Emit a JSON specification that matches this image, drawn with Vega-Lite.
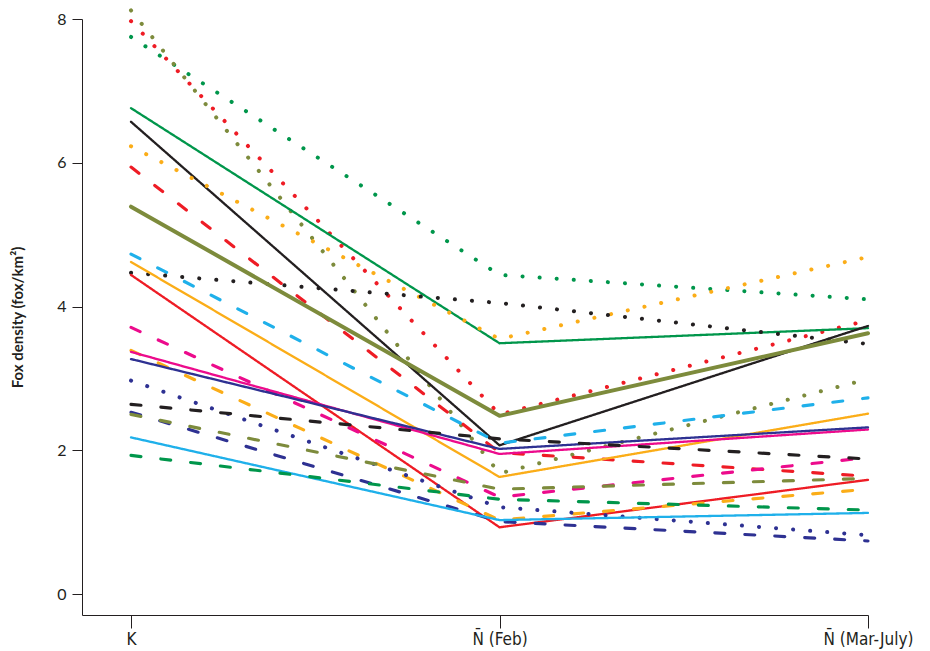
{
  "$schema": "https://vega.github.io/schema/vega-lite/v6.json",
  "width": 786,
  "height": 596,
  "autosize": {"type": "none"},
  "padding": {"left": 82, "top": 19, "right": 62, "bottom": 36},
  "background": "white",
  "config": {
    "view": {"stroke": null},
    "axis": {
      "domainColor": "#231f20",
      "tickColor": "#231f20",
      "labelColor": "#231f20",
      "titleColor": "#231f20",
      "labelFont": "Lato",
      "titleFont": "Lato",
      "grid": false
    }
  },
  "data": {
    "values": [
      {"series": "green-dotted", "colour": "green", "type": "dotted", "t": 0, "v": 7.75},
      {"series": "green-dotted", "colour": "green", "type": "dotted", "t": 1, "v": 4.44},
      {"series": "green-dotted", "colour": "green", "type": "dotted", "t": 2, "v": 4.10},
      {"series": "red-dotted", "colour": "red", "type": "dotted", "t": 0, "v": 7.97},
      {"series": "red-dotted", "colour": "red", "type": "dotted", "t": 1, "v": 2.50},
      {"series": "red-dotted", "colour": "red", "type": "dotted", "t": 2, "v": 3.81},
      {"series": "olive-dotted", "colour": "olive", "type": "dotted", "t": 0, "v": 8.12},
      {"series": "olive-dotted", "colour": "olive", "type": "dotted", "t": 1, "v": 1.68},
      {"series": "olive-dotted", "colour": "olive", "type": "dotted", "t": 2, "v": 2.99},
      {"series": "green-solid", "colour": "green", "type": "solid", "t": 0, "v": 6.76},
      {"series": "green-solid", "colour": "green", "type": "solid", "t": 1, "v": 3.49},
      {"series": "green-solid", "colour": "green", "type": "solid", "t": 2, "v": 3.70},
      {"series": "black-solid", "colour": "black", "type": "solid", "t": 0, "v": 6.57},
      {"series": "black-solid", "colour": "black", "type": "solid", "t": 1, "v": 2.07},
      {"series": "black-solid", "colour": "black", "type": "solid", "t": 2, "v": 3.73},
      {"series": "orange-dotted", "colour": "orange", "type": "dotted", "t": 0, "v": 6.23},
      {"series": "orange-dotted", "colour": "orange", "type": "dotted", "t": 1, "v": 3.55},
      {"series": "orange-dotted", "colour": "orange", "type": "dotted", "t": 2, "v": 4.69},
      {"series": "red-dashed", "colour": "red", "type": "dashed", "t": 0, "v": 5.94},
      {"series": "red-dashed", "colour": "red", "type": "dashed", "t": 1, "v": 1.97},
      {"series": "red-dashed", "colour": "red", "type": "dashed", "t": 2, "v": 1.64},
      {"series": "olive-solid", "colour": "olive", "type": "solid", "t": 0, "v": 5.39},
      {"series": "olive-solid", "colour": "olive", "type": "solid", "t": 1, "v": 2.48},
      {"series": "olive-solid", "colour": "olive", "type": "solid", "t": 2, "v": 3.63},
      {"series": "cyan-dashed", "colour": "cyan", "type": "dashed", "t": 0, "v": 4.73},
      {"series": "cyan-dashed", "colour": "cyan", "type": "dashed", "t": 1, "v": 2.10},
      {"series": "cyan-dashed", "colour": "cyan", "type": "dashed", "t": 2, "v": 2.73},
      {"series": "black-dotted", "colour": "black", "type": "dotted", "t": 0, "v": 4.47},
      {"series": "black-dotted", "colour": "black", "type": "dotted", "t": 1, "v": 4.05},
      {"series": "black-dotted", "colour": "black", "type": "dotted", "t": 2, "v": 3.48},
      {"series": "orange-solid", "colour": "orange", "type": "solid", "t": 0, "v": 4.62},
      {"series": "orange-solid", "colour": "orange", "type": "solid", "t": 1, "v": 1.63},
      {"series": "orange-solid", "colour": "orange", "type": "solid", "t": 2, "v": 2.51},
      {"series": "red-solid", "colour": "red", "type": "solid", "t": 0, "v": 4.44},
      {"series": "red-solid", "colour": "red", "type": "solid", "t": 1, "v": 0.93},
      {"series": "red-solid", "colour": "red", "type": "solid", "t": 2, "v": 1.59},
      {"series": "magenta-dashed", "colour": "magenta", "type": "dashed", "t": 0, "v": 3.71},
      {"series": "magenta-dashed", "colour": "magenta", "type": "dashed", "t": 1, "v": 1.35},
      {"series": "magenta-dashed", "colour": "magenta", "type": "dashed", "t": 2, "v": 1.90},
      {"series": "orange-dashed", "colour": "orange", "type": "dashed", "t": 0, "v": 3.39},
      {"series": "orange-dashed", "colour": "orange", "type": "dashed", "t": 1, "v": 1.03},
      {"series": "orange-dashed", "colour": "orange", "type": "dashed", "t": 2, "v": 1.46},
      {"series": "magenta-solid", "colour": "magenta", "type": "solid", "t": 0, "v": 3.37},
      {"series": "magenta-solid", "colour": "magenta", "type": "solid", "t": 1, "v": 1.95},
      {"series": "magenta-solid", "colour": "magenta", "type": "solid", "t": 2, "v": 2.29},
      {"series": "navy-solid", "colour": "navy", "type": "solid", "t": 0, "v": 3.27},
      {"series": "navy-solid", "colour": "navy", "type": "solid", "t": 1, "v": 2.02},
      {"series": "navy-solid", "colour": "navy", "type": "solid", "t": 2, "v": 2.32},
      {"series": "navy-dotted", "colour": "navy", "type": "dotted", "t": 0, "v": 2.97},
      {"series": "navy-dotted", "colour": "navy", "type": "dotted", "t": 1, "v": 1.21},
      {"series": "navy-dotted", "colour": "navy", "type": "dotted", "t": 2, "v": 0.82},
      {"series": "black-dashed", "colour": "black", "type": "dashed", "t": 0, "v": 2.64},
      {"series": "black-dashed", "colour": "black", "type": "dashed", "t": 1, "v": 2.16},
      {"series": "black-dashed", "colour": "black", "type": "dashed", "t": 2, "v": 1.88},
      {"series": "navy-dashed", "colour": "navy", "type": "dashed", "t": 0, "v": 2.53},
      {"series": "navy-dashed", "colour": "navy", "type": "dashed", "t": 1, "v": 1.01},
      {"series": "navy-dashed", "colour": "navy", "type": "dashed", "t": 2, "v": 0.74},
      {"series": "olive-dashed", "colour": "olive", "type": "dashed", "t": 0, "v": 2.50},
      {"series": "olive-dashed", "colour": "olive", "type": "dashed", "t": 1, "v": 1.46},
      {"series": "olive-dashed", "colour": "olive", "type": "dashed", "t": 2, "v": 1.61},
      {"series": "cyan-solid", "colour": "cyan", "type": "solid", "t": 0, "v": 2.18},
      {"series": "cyan-solid", "colour": "cyan", "type": "solid", "t": 1, "v": 1.03},
      {"series": "cyan-solid", "colour": "cyan", "type": "solid", "t": 2, "v": 1.13},
      {"series": "green-dashed", "colour": "green", "type": "dashed", "t": 0, "v": 1.93},
      {"series": "green-dashed", "colour": "green", "type": "dashed", "t": 1, "v": 1.32},
      {"series": "green-dashed", "colour": "green", "type": "dashed", "t": 2, "v": 1.17}
    ]
  },
  "encoding": {
    "x": {
      "field": "t",
      "type": "quantitative",
      "scale": {"domain": [-0.133, 2], "nice": false, "zero": false},
      "axis": {
        "values": [0, 1, 2],
        "title": null,
        "tickSize": 13,
        "labelPadding": 3,
        "labelFontSize": 17,
        "labelFlush": false,
        "labelOverlap": false,
        "labelFont": "DejaVu Sans Condensed",
        "labelExpr": "datum.value == 0 ? 'K' : datum.value == 1 ? 'N\u0304 (Feb)' : 'N\u0304 (Mar-July)'"
      }
    },
    "y": {
      "field": "v",
      "type": "quantitative",
      "scale": {"domain": [-0.29, 8], "nice": false, "zero": false},
      "axis": {
        "values": [0, 2, 4, 6, 8],
        "title": "Fox density (fox/km²)",
        "titleFontSize": 15,
        "titleFontWeight": "bold",
        "titleX": -65,
        "titleBaseline": "middle",
        "tickSize": 10,
        "labelPadding": 6,
        "labelFontSize": 16
      }
    },
    "detail": {"field": "series"},
    "color": {
      "field": "colour",
      "type": "nominal",
      "legend": null,
      "scale": {
        "domain": ["green", "red", "olive", "black", "orange", "cyan", "magenta", "navy"],
        "range": ["#00964b", "#ee1c25", "#7d8b3c", "#231f20", "#fbad18", "#1fb0ea", "#ec0b8c", "#2e3192"]
      }
    }
  },
  "layer": [
    {
      "mark": {"type": "line", "strokeCap": "round", "strokeJoin": "round", "clip": false},
      "encoding": {
        "strokeDash": {
          "field": "type",
          "type": "nominal",
          "legend": null,
          "scale": {"domain": ["solid", "dashed", "dotted"], "range": [[1, 0], [10, 20], [0.1, 17]]}
        },
        "strokeWidth": {
          "field": "type",
          "type": "nominal",
          "legend": null,
          "scale": {"domain": ["solid", "dashed", "dotted"], "range": [2.3, 4, 3.4]}
        }
      }
    },
    {
      "transform": [{"filter": "datum.series == 'olive-solid'"}],
      "mark": {"type": "line", "strokeCap": "round", "strokeJoin": "round", "strokeWidth": 4},
      "encoding": {}
    }
  ]
}
